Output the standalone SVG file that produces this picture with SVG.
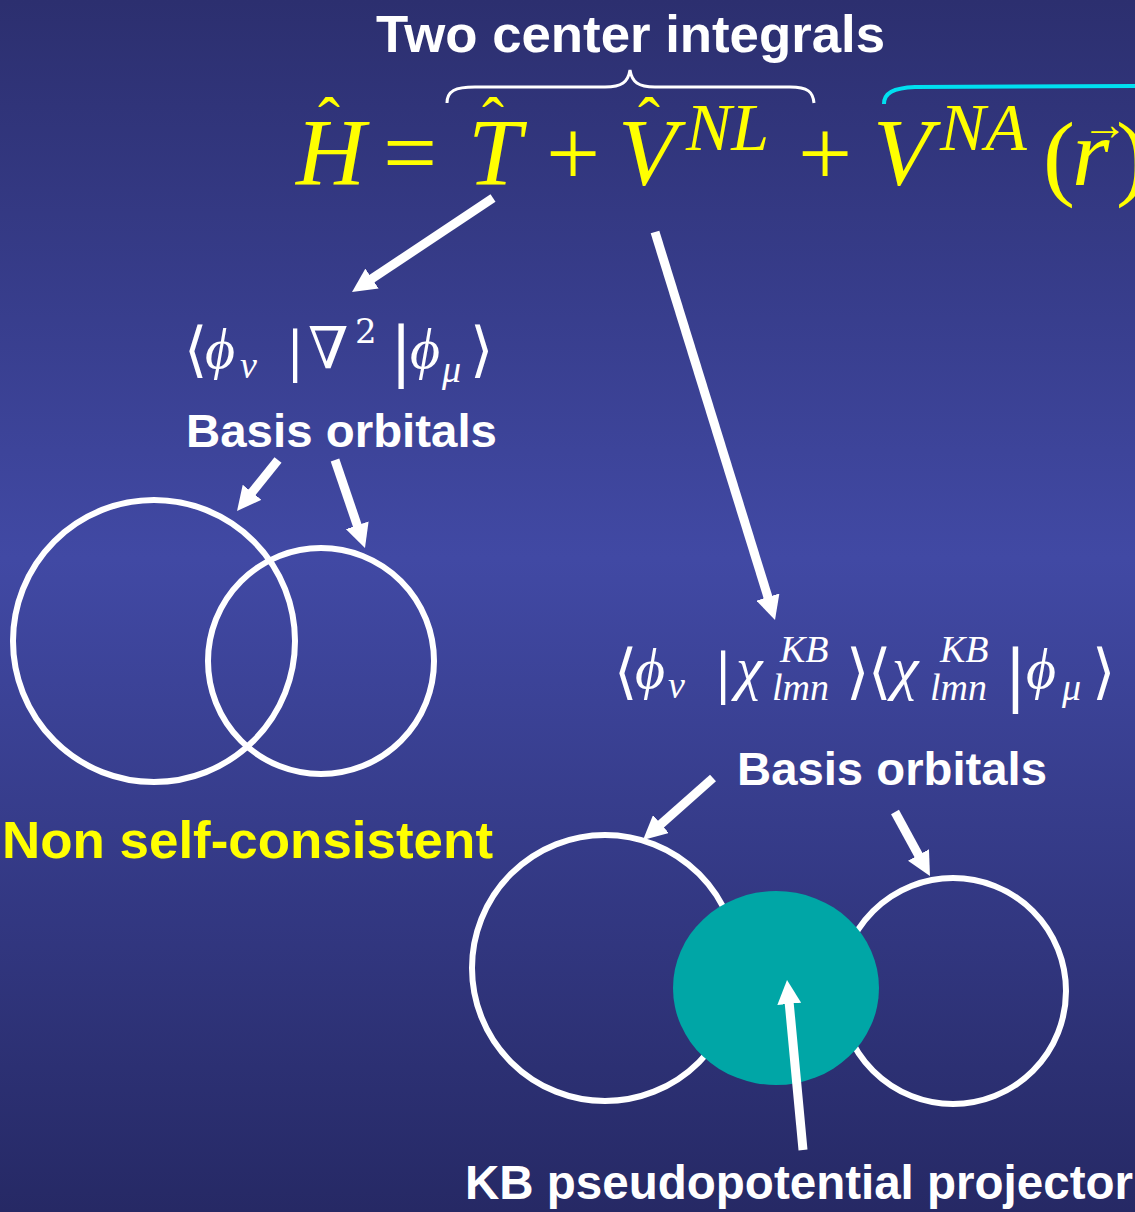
<svg xmlns="http://www.w3.org/2000/svg" width="1135" height="1212" viewBox="0 0 1135 1212">
<defs>
<linearGradient id="bg" x1="0" y1="0" x2="0" y2="1">
<stop offset="0" stop-color="#2c2f6f"/>
<stop offset="0.46" stop-color="#4149a4"/>
<stop offset="1" stop-color="#262965"/>
</linearGradient>
<marker id="ah" markerUnits="userSpaceOnUse" viewBox="0 0 24 24" markerWidth="24" markerHeight="24" refX="3" refY="12" orient="auto">
<path d="M0,0 L24,12 L0,24 z" fill="#ffffff"/>
</marker>
<style>
.lbl{font-family:"Liberation Sans",Arial,sans-serif;font-weight:bold;fill:#ffffff}
.yl{fill:#ffff00}
.m{font-family:"Liberation Serif","DejaVu Serif",serif;font-style:italic;fill:#ffff00}
.mu{font-family:"Liberation Serif","DejaVu Serif",serif;fill:#ffff00}
.w{font-family:"Liberation Serif","DejaVu Serif",serif;font-style:italic;fill:#ffffff}
.wu{font-family:"DejaVu Serif","Liberation Serif",serif;fill:#ffffff;font-weight:200}
.ring{fill:none;stroke:#ffffff;stroke-width:6}
.arr{stroke:#ffffff;stroke-width:9;fill:none;marker-end:url(#ah)}
</style>
</defs>
<rect x="0" y="0" width="1135" height="1212" fill="url(#bg)"/>

<g id="title">
<text class="lbl" x="376" y="52" font-size="52" textLength="509" lengthAdjust="spacingAndGlyphs">Two center integrals</text>
<path d="M447,103 C447,91 455,87 475,87 L605,87 C622,87 628,82 630,70 C632,82 638,87 655,87 L790,87 C808,87 813,92 814,103" fill="none" stroke="#ffffff" stroke-width="3"/>
<path d="M884,104 C884,93 893,88 915,87 L1135,86" fill="none" stroke="#00e0f0" stroke-width="4"/>
</g>

<g id="equation">
<text class="m" x="296" y="185" font-size="96">H</text>
<text class="mu" x="318" y="143" font-size="66">ˆ</text>
<text class="mu" x="383" y="185" font-size="96">=</text>
<text class="m" x="468" y="185" font-size="96">T</text>
<text class="mu" x="482" y="143" font-size="66">ˆ</text>
<text class="mu" x="546" y="185" font-size="96">+</text>
<text class="m" x="618" y="185" font-size="96">V</text>
<text class="mu" x="638" y="143" font-size="66">ˆ</text>
<text class="m" x="686" y="150" font-size="68">NL</text>
<text class="mu" x="798" y="185" font-size="96">+</text>
<text class="m" x="873" y="185" font-size="96">V</text>
<text class="m" x="940" y="150" font-size="68">NA</text>
<text class="mu" x="1043" y="188" font-size="96">(</text>
<text class="m" x="1072" y="185" font-size="96">r</text>
<text class="mu" x="1082" y="140" font-size="46">→</text>
<text class="mu" x="1116" y="188" font-size="96">)</text>
</g>

<g id="kinetic-integral">
<text class="wu" x="184" y="370" font-size="60">⟨</text>
<text class="w" x="205" y="368" font-size="58">ϕ</text>
<text class="w" x="240" y="378" font-size="38">ν</text>
<text class="wu" x="286" y="370" font-size="54">|</text>
<text class="wu" x="308" y="368" font-size="58">∇</text>
<text class="wu" x="355" y="343" font-size="34">2</text>
<text class="wu" x="390" y="374" font-size="66">|</text>
<text class="w" x="410" y="368" font-size="58">ϕ</text>
<text class="w" x="442" y="382" font-size="38">μ</text>
<text class="wu" x="470" y="370" font-size="60">⟩</text>
</g>

<g id="basis-label-1">
<text class="lbl" x="186" y="447" font-size="47" textLength="311" lengthAdjust="spacingAndGlyphs">Basis orbitals</text>
</g>

<g id="orbital-pair-1">
<circle class="ring" cx="154" cy="641" r="141"/>
<circle class="ring" cx="321" cy="661" r="113"/>
</g>

<g id="label-nonsc">
<text class="lbl yl" x="2" y="858" font-size="52" textLength="491" lengthAdjust="spacingAndGlyphs">Non self-consistent</text>
</g>

<g id="kb-integral">
<text class="wu" x="614" y="692" font-size="60">⟨</text>
<text class="w" x="635" y="688" font-size="58">ϕ</text>
<text class="w" x="668" y="698" font-size="38">ν</text>
<text class="wu" x="714" y="692" font-size="54">|</text>
<text class="w" x="736" y="688" font-size="60">χ</text>
<text class="w" x="780" y="662" font-size="38">KB</text>
<text class="w" x="772" y="700" font-size="38">lmn</text>
<text class="wu" x="846" y="692" font-size="60">⟩</text>
<text class="wu" x="868" y="692" font-size="60">⟨</text>
<text class="w" x="892" y="688" font-size="60">χ</text>
<text class="w" x="940" y="662" font-size="38">KB</text>
<text class="w" x="930" y="700" font-size="38">lmn</text>
<text class="wu" x="1004" y="698" font-size="68">|</text>
<text class="w" x="1026" y="688" font-size="58">ϕ</text>
<text class="w" x="1062" y="700" font-size="38">μ</text>
<text class="wu" x="1092" y="692" font-size="60">⟩</text>
</g>

<g id="basis-label-2">
<text class="lbl" x="737" y="785" font-size="47" textLength="310" lengthAdjust="spacingAndGlyphs">Basis orbitals</text>
</g>

<g id="orbital-pair-2">
<circle class="ring" cx="605" cy="968" r="133"/>
<circle class="ring" cx="953" cy="991" r="113"/>
</g>

<g id="kb-projector">
<ellipse cx="776" cy="988" rx="103" ry="97" fill="#00a6a6"/>
</g>

<g id="kb-label">
<text class="lbl" x="465" y="1199" font-size="48" textLength="668" lengthAdjust="spacingAndGlyphs">KB pseudopotential projector</text>
</g>

<g id="connectors">
<line class="arr" x1="493" y1="198" x2="369.5" y2="280.3"/>
<line class="arr" x1="278" y1="460" x2="250.2" y2="494.6"/>
<line class="arr" x1="335" y1="460" x2="358.2" y2="528.1"/>
<line class="arr" x1="655" y1="232" x2="768.8" y2="599.9"/>
<line class="arr" x1="713" y1="778" x2="658.7" y2="826.1"/>
<line class="arr" x1="895" y1="812" x2="919.9" y2="857.6"/>
<line class="arr" x1="803" y1="1150" x2="789" y2="1000.9"/>
</g>
</svg>
